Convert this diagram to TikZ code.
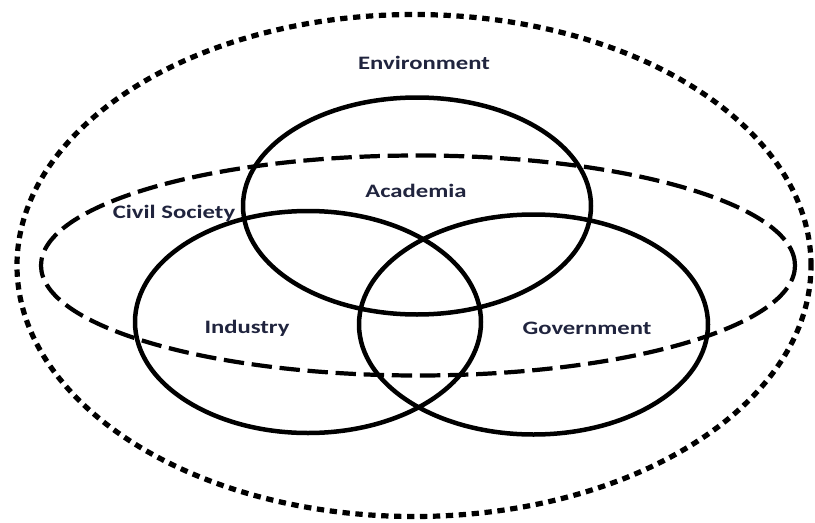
\documentclass[tikz,border=0pt]{standalone}
\usepackage{fontspec}
\usepackage{xcolor}
\usetikzlibrary{positioning}
\newfontfamily\diagfont{Carlito}[FakeStretch=1.3]
\definecolor{labelnavy}{RGB}{32,36,62}
\tikzset{%
   sector/.style={
      line width=3.2pt
   },
   civil/.style={
      line width=3pt,
      dash pattern=on 14.5pt off 5.5pt
   },
   envline/.style={
      line width=3.7pt,
      dash pattern=on 5.2pt off 4pt
   },
   lbl/.style={
      inner sep=0pt,
      text=labelnavy,
      font=\diagfont\bfseries\fontsize{13.5}{15}\selectfont
   },
}
\begin{document}
\begin{tikzpicture}[x=0.025cm, y=0.025cm]
   \useasboundingbox (0,0) rectangle (815,522);
   % the four rings
   \draw[envline] (414,256.5) ellipse [x radius=397, y radius=251];
   \draw[civil] (418,256.5) ellipse [x radius=377, y radius=110];
   \draw[sector] (417,316) ellipse [x radius=174, y radius=108.5];
   \draw[sector] (308,200) ellipse [x radius=173, y radius=111];
   \draw[sector] (533.5,197.5) ellipse [x radius=174.5, y radius=110];
   % labels
   \node[lbl] (env) at (424,459) {Environment};
   \node[lbl] (acad) at (416,331) {Academia};
   \node[lbl] (civ) at (174,309) {Civil Society};
   \node[lbl] (ind) at (247,194) {Industry};
   \node[lbl] (gov) at (587,194) {Government};
\end{tikzpicture}
\end{document}
